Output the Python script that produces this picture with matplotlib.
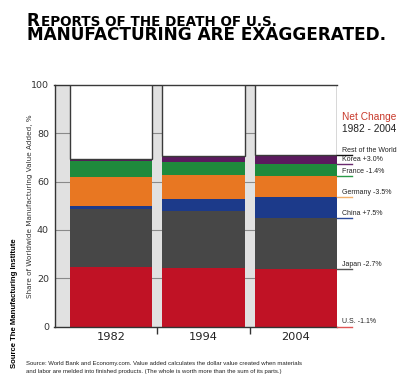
import numpy as np
import matplotlib.pyplot as plt

# ------------------------------------------------------------
# DATA  (share of worldwide manufacturing value added, %)
# ------------------------------------------------------------
years = ["1982", "1994", "2004"]
countries = ["U.S.", "Japan", "China", "Germany", "France", "Korea"]
us      = [24.8, 24.2, 23.7]
japan   = [23.9, 23.8, 21.2]
china   = [1.2, 4.7, 8.7]
germany = [12.2, 10.1, 8.7]
france  = [6.3, 5.2, 4.9]
korea   = [0.8, 2.6, 3.8]
series = [us, japan, china, germany, france, korea]

net_labels = ["U.S. -1.1%", "Japan -2.7%", "China +7.5%", "Germany -3.5%",
              "France -1.4%", "Korea +3.0%", "Rest of the World"]

colors = ["#c01225", "#474747", "#1c3a8a", "#e87722", "#1f8a3c", "#5b1a5e"]
line_colors = ["#e05555", "#555555", "#2a4a9a", "#f3b06a", "#2a9a48",
               "#6a2a6e", "#111111"]

W, H = 403, 389

def fx(x):
    return x / W

def fy(y):
    return 1 - y / H

fig = plt.figure(figsize=(W / 100, H / 100), dpi=100)
ax = fig.add_axes([fx(54.5), fy(326.5), fx(337) - fx(54.5), fy(85) - fy(326.5)])

x = np.arange(len(years))
bw = 0.89
ax.set_xlim(-0.613, 2.445)
ax.set_ylim(0, 100)
ax.set_facecolor("#e1e1e1")

# gridlines only show in the gray bands
for v in [20, 40, 60, 80]:
    ax.axhline(v, color="#8a8a8a", lw=0.8, zorder=1)

bottom = np.zeros(3)
for vals, c in zip(series, colors):
    ax.bar(x, vals, bw, bottom=bottom, color=c, lw=0, zorder=2)
    bottom += np.array(vals)
rest = 100 - bottom
ax.bar(x, rest, bw, bottom=bottom, color="white", edgecolor="#3a3a3a",
       lw=1.0, zorder=3)

# spines / ticks
ax.spines["right"].set_visible(False)
for s in ["left", "bottom", "top"]:
    ax.spines[s].set_color("#333333")
    ax.spines[s].set_linewidth(1.0)
ax.set_yticks([0, 20, 40, 60, 80, 100])
ax.tick_params(axis="y", length=0, pad=4, labelsize=6.8, labelcolor="#333333")
ax.set_xticks(x)
ax.set_xticklabels(years, fontsize=8.2, color="#222222")
ax.tick_params(axis="x", length=0, pad=4)
ax.set_xticks([0.5, 1.5], minor=True)
ax.tick_params(axis="x", which="minor", length=5, width=1, color="#333333",
               direction="out")

ax.set_ylabel("Share of Worldwide Manufacturing Value Added, %",
              fontsize=5.2, color="#333333", labelpad=2)
ax.yaxis.set_label_coords(-0.075, 0.5)

# leader lines and labels on the right (line sits at bottom of each segment)
tops = np.cumsum([s[2] for s in series])
lab_y = np.concatenate([[0], tops])
for lbl, base, lc in zip(net_labels, lab_y, line_colors):
    ax.plot([2.445, 2.607], [base, base], color=lc, lw=1.0,
            clip_on=False, zorder=4)
    ax.annotate(lbl, xy=(2.50, base), xytext=(0, 0.8),
                textcoords="offset points", fontsize=5.0, va="bottom",
                ha="left", color="#222222", annotation_clip=False,
                family="Liberation Sans")

fig.text(fx(369), fy(117), "Net Change", color="#c8392b", fontsize=7.3,
         ha="center", va="center", family="Liberation Sans")
fig.text(fx(369), fy(129), "1982 - 2004", color="#222222", fontsize=7.3,
         ha="center", va="center", family="Liberation Sans")

# title (small caps look), font size fitted to the reference width
renderer = fig.canvas.get_renderer()

def fit_size(txt, target_px, ref=10):
    t = fig.text(0, 0, txt, fontsize=ref, fontweight="bold",
                 family="DejaVu Sans")
    w = t.get_window_extent(renderer).width
    t.remove()
    return ref * target_px / w

big = fit_size("MANUFACTURING ARE EXAGGERATED.", 361)
small = big * 0.8
t1 = fig.text(fx(27), fy(25.5), "R", fontsize=big, fontweight="bold",
              family="DejaVu Sans", va="baseline")
r_x1 = t1.get_window_extent(renderer).x1
fig.text((r_x1 + 1) / W, fy(25.5), "EPORTS OF THE DEATH OF U.S.",
         fontsize=small, fontweight="bold", family="DejaVu Sans",
         va="baseline")
fig.text(fx(27), fy(40.5), "MANUFACTURING ARE EXAGGERATED.", fontsize=big,
         fontweight="bold", family="DejaVu Sans", va="baseline")

fig.text(fx(15), fy(368), "Source The Manufacturing Institute", rotation=90,
         fontsize=5.6, fontweight="bold", ha="center", va="bottom",
         family="Liberation Sans")

fig.text(fx(26), fy(363),
         "Source: World Bank and Economy.com. Value added calculates the dollar value created when materials",
         fontsize=4.3, va="center", ha="left", color="#222222",
         family="Liberation Sans")
fig.text(fx(26), fy(372),
         "and labor are melded into finished products. (The whole is worth more than the sum of its parts.)",
         fontsize=4.3, va="center", ha="left", color="#222222",
         family="Liberation Sans")

fig.savefig("out.png", dpi=100)
